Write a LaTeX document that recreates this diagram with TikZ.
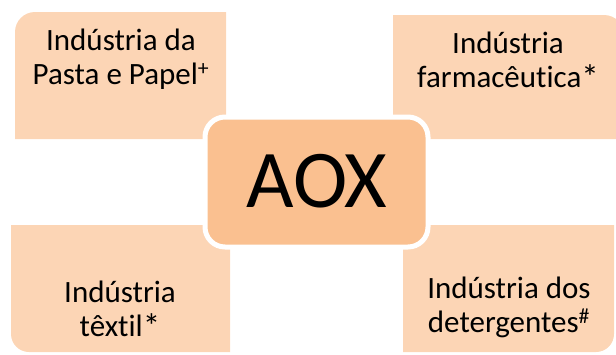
\documentclass[tikz,border=0pt]{standalone}
\usepackage{fontspec}
\setmainfont{Carlito}[Ligatures=NoCommon]
\definecolor{lightpeach}{HTML}{FCD5B5}
\definecolor{midpeach}{HTML}{FAC090}
\newcommand{\bigast}{\raisebox{-2pt}{\fontsize{35}{34}\selectfont*}}
\tikzset{
  outerbox/.style={fill=lightpeach, draw=none},
  boxtext/.style={align=center, inner sep=0pt, font=\fontsize{31}{34}\selectfont, text=black},
  centerbox/.style={fill=midpeach, draw=white, line width=5pt},
}
\begin{document}
\begin{tikzpicture}[x=1pt,y=-1pt]
\useasboundingbox (0,0) rectangle (616,354);
% outer boxes
\path[outerbox] (15,139) [rounded corners=20pt] -- (15,12) [sharp corners] -- (226,12) -- (226,139) -- cycle;
\path[outerbox] (393,15) [rounded corners=20pt] -- (624,15) [sharp corners] -- (624,139) -- (393,139) -- cycle;
\path[outerbox] (230,225) -- (11,225) [rounded corners=18pt] -- (11,352) [sharp corners] -- (230,352) -- cycle;
\path[outerbox] (403,352) [rounded corners=18pt] -- (614,352) [sharp corners] -- (614,225) -- (403,225) -- cycle;
% center
\draw[centerbox, rounded corners=20pt] (205,117) rectangle (428,247);
% texts
\node[boxtext] (tl) at (121,59) {Indústria da\\Pasta e Papel\textsuperscript{+}};
\node[boxtext] (tr) at (508,61) {Indústria\\farmacêutica\bigast};
\node[boxtext] (bl) at (120,310) {Indústria\\têxtil\bigast};
\node[boxtext] (br) at (509,307) {Indústria dos\\detergentes\textsuperscript{\#}};
\node[font=\fontsize{82}{90}\selectfont, inner sep=0pt, anchor=base] (aox) at (317,207) {AOX};
\end{tikzpicture}
\end{document}
